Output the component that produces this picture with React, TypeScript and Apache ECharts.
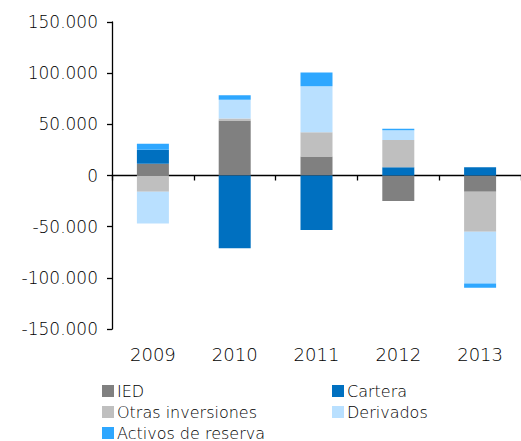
import React, { useEffect, useRef } from "react";
import * as echarts from "echarts";

const categories = ["2009", "2010", "2011", "2012", "2013"];
const seriesNames = ["IED", "Cartera", "Otras inversiones", "Derivados", "Activos de reserva"];
const ied = [11400, 53700, 18500, -25000, -16000];
const cartera = [13700, -71000, -53300, 8100, 8100];
const otras = [-16000, 2000, 23800, 26700, -39000];
const derivados = [-31000, 18300, 45000, 9400, -50500];
const activos = [5900, 4500, 13300, 1400, -4200];
const colors = ["#808080", "#0070C0", "#BFBFBF", "#B9E0FF", "#2EA7FF"];
const yTicks = { min: -150000, max: 150000, interval: 50000 };

const fmt = (v: number) => {
  const s = Math.abs(v).toString().replace(/\B(?=(\d{3})+(?!\d))/g, ".");
  return (v < 0 ? "-" : "") + s;
};

const FONT = "DejaVu Sans";
const W = 200;
const TXT = "#000";

export default function App() {
  const ref = useRef<HTMLDivElement>(null);
  useEffect(() => {
    if (!ref.current) return;
    const chart = echarts.init(ref.current, null, { renderer: "svg" });
    const values = [ied, cartera, otras, derivados, activos];
    const legendPos = [
      { left: 102, top: 383 },
      { left: 332, top: 383 },
      { left: 102, top: 404 },
      { left: 332, top: 404 },
      { left: 102, top: 425 },
    ];
    chart.setOption({
      animation: false,
      grid: { left: 112, top: 22, height: 307, width: 413 },
      legend: seriesNames.map((n, i) => ({
        data: [n],
        left: legendPos[i].left,
        top: legendPos[i].top,
        padding: 0,
        icon: "rect",
        itemWidth: 12,
        itemHeight: 12,
        textStyle: { fontFamily: FONT, fontWeight: W, fontSize: 16, color: TXT, padding: [0, 0, 0, -2] },
      })),
      xAxis: [
        {
          type: "category",
          data: categories,
          position: "bottom",
          axisLine: { show: false, onZero: false },
          axisTick: { show: false },
          axisLabel: { fontFamily: FONT, fontWeight: W, fontSize: 18, color: TXT, margin: 16 },
        },
        {
          type: "category",
          data: categories,
          position: "bottom",
          axisLine: { show: true, onZero: true, lineStyle: { color: "#000", width: 1.3 } },
          axisTick: { show: true, length: 5, lineStyle: { color: "#000", width: 1.3 } },
          axisLabel: { show: false },
        },
      ],
      yAxis: {
        type: "value",
        min: yTicks.min,
        max: yTicks.max,
        interval: yTicks.interval,
        splitLine: { show: false },
        axisLine: { show: true, lineStyle: { color: "#000", width: 1.3 } },
        axisTick: { show: true, length: 5, lineStyle: { color: "#000", width: 1.3 } },
        axisLabel: { fontFamily: FONT, fontWeight: W, fontSize: 17, color: TXT, margin: 14, formatter: fmt },
      },
      series: seriesNames.map((n, i) => ({
        name: n,
        type: "bar",
        stack: "total",
        xAxisIndex: 0,
        barWidth: 32,
        itemStyle: { color: colors[i] },
        data: values[i],
      })),
    });
    return () => chart.dispose();
  }, []);
  return (
    <div
      ref={ref}
      style={{ position: "fixed", left: 0, top: 0, width: 521, height: 441, background: "#fff" }}
    />
  );
}
